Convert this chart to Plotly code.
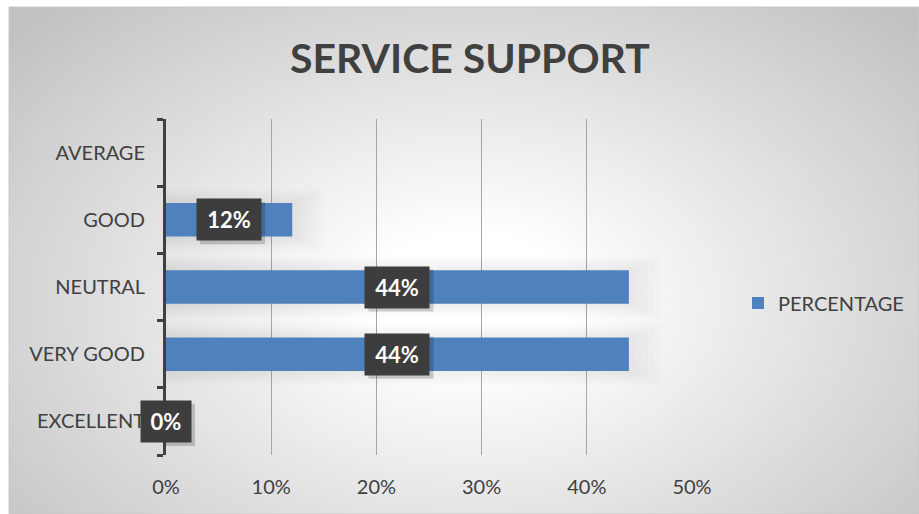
import base64
import struct
import zlib

import numpy as np
import plotly.graph_objects as go

# Survey results (bottom to top)
categories = ["EXCELLENT", "VERY GOOD", "NEUTRAL", "GOOD", "AVERAGE"]
percentages = [0.00, 0.44, 0.44, 0.12, None]
series_name = "PERCENTAGE"
x_ticks = [0.0, 0.1, 0.2, 0.3, 0.4, 0.5]
x_tick_text = ["0%", "10%", "20%", "30%", "40%", "50%"]

W, H = 919, 514
L, R, T, B = 166, 227, 119, 59
plot_w = W - L - R
plot_h = H - T - B

FONT = "Lato"
TEXT = "#404040"
BAR = "#4F81BD"


def png_uri(rgb):
    """Encode an HxWx3 uint8 array as a PNG data URI."""
    h, w, _ = rgb.shape
    raw = b"".join(b"\x00" + rgb[i].tobytes() for i in range(h))

    def chunk(tag, data):
        c = struct.pack(">I", len(data)) + tag + data
        return c + struct.pack(">I", zlib.crc32(tag + data) & 0xFFFFFFFF)

    png = b"\x89PNG\r\n\x1a\n"
    png += chunk(b"IHDR", struct.pack(">IIBBBBB", w, h, 8, 2, 0, 0, 0))
    png += chunk(b"IDAT", zlib.compress(raw, 9))
    png += chunk(b"IEND", b"")
    return "data:image/png;base64," + base64.b64encode(png).decode()


# Radial grey-to-white chart-area fill
box_x0, box_y0 = 9, 7
bw, bh = W - box_x0, H - box_y0
yy, xx = np.mgrid[0:bh, 0:bw].astype(float)
cx, cy = 470 - box_x0, 300 - box_y0
d = np.sqrt(((xx - cx) / 470.0) ** 2 + ((yy - cy) / 310.0) ** 2)
shade = 255 - 62 * np.clip((d - 0.22) / 1.1, 0, 1)
img = np.repeat(shade[:, :, None], 3, axis=2).astype(np.uint8)
bg_uri = png_uri(img)

fig = go.Figure()

# Soft glow behind each bar, built up from faint layers
vals = [v if v is not None else 0 for v in percentages]
for grow, wdt in [(0.030, 0.90), (0.024, 0.82), (0.018, 0.74), (0.012, 0.66), (0.006, 0.58)]:
    fig.add_trace(go.Bar(
        y=categories, x=[v + grow if v > 0 else 0 for v in vals],
        orientation="h", width=wdt,
        marker=dict(color="rgba(0,0,0,0.012)", line=dict(width=0)),
        showlegend=False, hoverinfo="skip",
    ))

fig.add_trace(go.Bar(
    y=categories, x=percentages, orientation="h", name=series_name,
    width=0.5, marker=dict(color=BAR, line=dict(width=0)),
))

# Value labels in dark boxes, centred on each bar, with a drop shadow
shapes = [dict(
    type="rect", xref="paper", yref="paper",
    x0=(box_x0 - L) / plot_w, x1=(W - L) / plot_w,
    y0=(H - B - H) / plot_h, y1=(H - B - box_y0) / plot_h,
    line=dict(color="#c8c8c8", width=1), layer="below",
)]
annotations = []
for cat, v in zip(categories, percentages):
    if v is None:
        continue
    label = f"{round(v * 100)}%"
    box_w = 36 + 14 * (len(label) - 1)
    shapes.append(dict(
        type="rect", xref="x", yref="y",
        xsizemode="pixel", xanchor=v / 2,
        ysizemode="pixel", yanchor=cat,
        x0=-box_w / 2 + 3, x1=box_w / 2 + 4,
        y0=-20.5 - 4, y1=20.5 - 3,
        fillcolor="rgba(0,0,0,0.18)", line=dict(width=0), layer="above",
    ))
    annotations.append(dict(
        x=v / 2, y=cat, xref="x", yref="y",
        text=f"<b>{label}</b>", showarrow=False,
        font=dict(family=FONT, size=22, color="white"),
        bgcolor="#3d3d3d", width=box_w, height=41, borderpad=0,
    ))

annotations.append(dict(
    x=(470 - L) / plot_w, y=(H - B - 58) / plot_h, xref="paper", yref="paper",
    text="<b>SERVICE SUPPORT</b>", showarrow=False,
    font=dict(family=FONT, size=41, color=TEXT),
    xanchor="center", yanchor="middle",
))

fig.update_layout(
    width=W, height=H,
    margin=dict(l=L, r=R, t=T, b=B, autoexpand=False),
    paper_bgcolor="white", plot_bgcolor="rgba(0,0,0,0)",
    barmode="overlay",
    font=dict(family=FONT, size=20, color=TEXT),
    annotations=annotations,
    shapes=shapes,
    images=[dict(
        source=bg_uri, xref="paper", yref="paper",
        x=(box_x0 - L) / plot_w, y=(H - B - box_y0) / plot_h,
        sizex=bw / plot_w, sizey=bh / plot_h,
        xanchor="left", yanchor="top", sizing="stretch", layer="below",
    )],
    legend=dict(
        x=(738 - L) / plot_w, y=(H - B - 303) / plot_h,
        xanchor="left", yanchor="middle",
        font=dict(family=FONT, size=20, color=TEXT),
        bgcolor="rgba(0,0,0,0)",
    ),
    xaxis=dict(
        range=[0, 0.5], tickvals=x_ticks, ticktext=x_tick_text,
        showgrid=True, gridcolor="#a6a6a6", gridwidth=1,
        zeroline=False, showline=False, ticks="",
        ticklabelstandoff=18, fixedrange=True,
    ),
    yaxis=dict(
        type="category", categoryorder="array", categoryarray=categories,
        showline=True, linecolor=TEXT, linewidth=3,
        ticks="outside", tickson="boundaries", ticklen=6,
        tickwidth=3, tickcolor=TEXT, showgrid=False,
        ticklabelstandoff=14, fixedrange=True,
    ),
    hovermode=False,
)

fig.write_html("out.html")
